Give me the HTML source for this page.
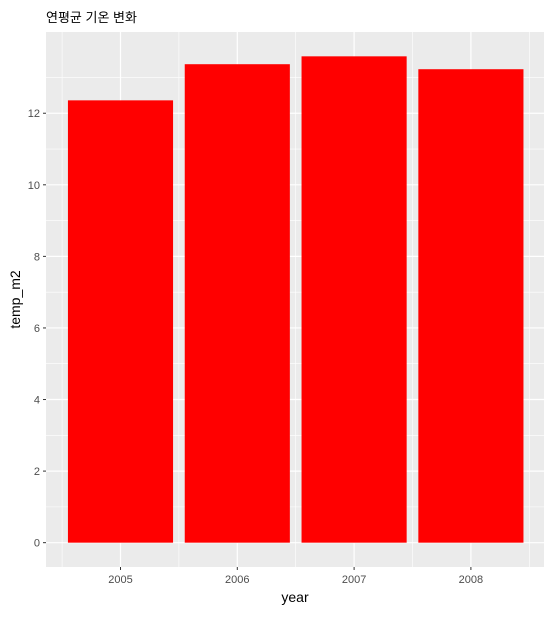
<!DOCTYPE html>
<html><head><meta charset="utf-8"><style>
body{margin:0;background:#fff;}
svg text{font-family:"Liberation Sans","Noto Sans CJK KR",sans-serif;}
</style></head><body>
<svg id="chart" width="553" height="612"></svg>
<script>
const categories=["2005","2006","2007","2008"];
const values=[12.36,13.37,13.59,13.23];
const yTicks=[0,2,4,6,8,10,12];
const NS="http://www.w3.org/2000/svg";
const svg=document.getElementById('chart');
const L=46,R=544,T=32,B=567;
const ymin=-0.68,ymax=14.27;
function y(v){return B-(v-ymin)/(ymax-ymin)*(B-T);}
const step=116.8;
const x0=120.5;
function x(i){return x0+step*i;}
function mk(tag,attrs,parent){const e=document.createElementNS(NS,tag);for(const k in attrs)e.setAttribute(k,attrs[k]);(parent||svg).appendChild(e);return e;}
const panel=mk('rect',{x:L,y:T,width:R-L,height:B-T,fill:'#ebebeb'});


for(let i=0;i<yTicks.length-1;i++){const m=(yTicks[i]+yTicks[i+1])/2;mk('line',{x1:L,x2:R,y1:y(m),y2:y(m),stroke:'#fff','stroke-width':0.6});}
{const m=yTicks[yTicks.length-1]+1;mk('line',{x1:L,x2:R,y1:y(m),y2:y(m),stroke:'#fff','stroke-width':0.6});}
for(let i=0;i<=categories.length;i++){const xx=x(i)-step/2;mk('line',{x1:xx,x2:xx,y1:T,y2:B,stroke:'#fff','stroke-width':0.6});}
yTicks.forEach(v=>{
 mk('line',{x1:L,x2:R,y1:y(v),y2:y(v),stroke:'#fff','stroke-width':1.2});
 mk('line',{x1:L-3,x2:L,y1:y(v),y2:y(v),stroke:'#333','stroke-width':1});
 const t=mk('text',{x:L-6,y:y(v)+4,'text-anchor':'end','font-size':11,fill:'#4d4d4d'});t.textContent=v;
 
 
});
categories.forEach((c,i)=>{
 mk('line',{x1:x(i),x2:x(i),y1:T,y2:B,stroke:'#fff','stroke-width':1.2});
 mk('line',{x1:x(i),x2:x(i),y1:B,y2:B+3,stroke:'#333','stroke-width':1});
 const t=mk('text',{x:x(i),y:B+16,'text-anchor':'middle','font-size':11,fill:'#4d4d4d'});t.textContent=c;
 
 
});
values.forEach((v,i)=>{
 const w=step*0.9;
 const r=mk('rect',{x:x(i)-w/2,y:y(v),width:w,height:y(0)-y(v),fill:'#ff0000'});
 
 
});
const ti=mk('text',{x:L,y:22,'font-size':13,fill:'#000'});ti.textContent='연평균 기온 변화';


const xt=mk('text',{x:(L+R)/2,y:602,'text-anchor':'middle','font-size':14,fill:'#000'});xt.textContent='year';


const yt=mk('text',{x:0,y:0,'text-anchor':'middle','font-size':14,fill:'#000',transform:'translate(20,'+((T+B)/2)+') rotate(-90)'});yt.textContent='temp_m2';


</script>
</body></html>
